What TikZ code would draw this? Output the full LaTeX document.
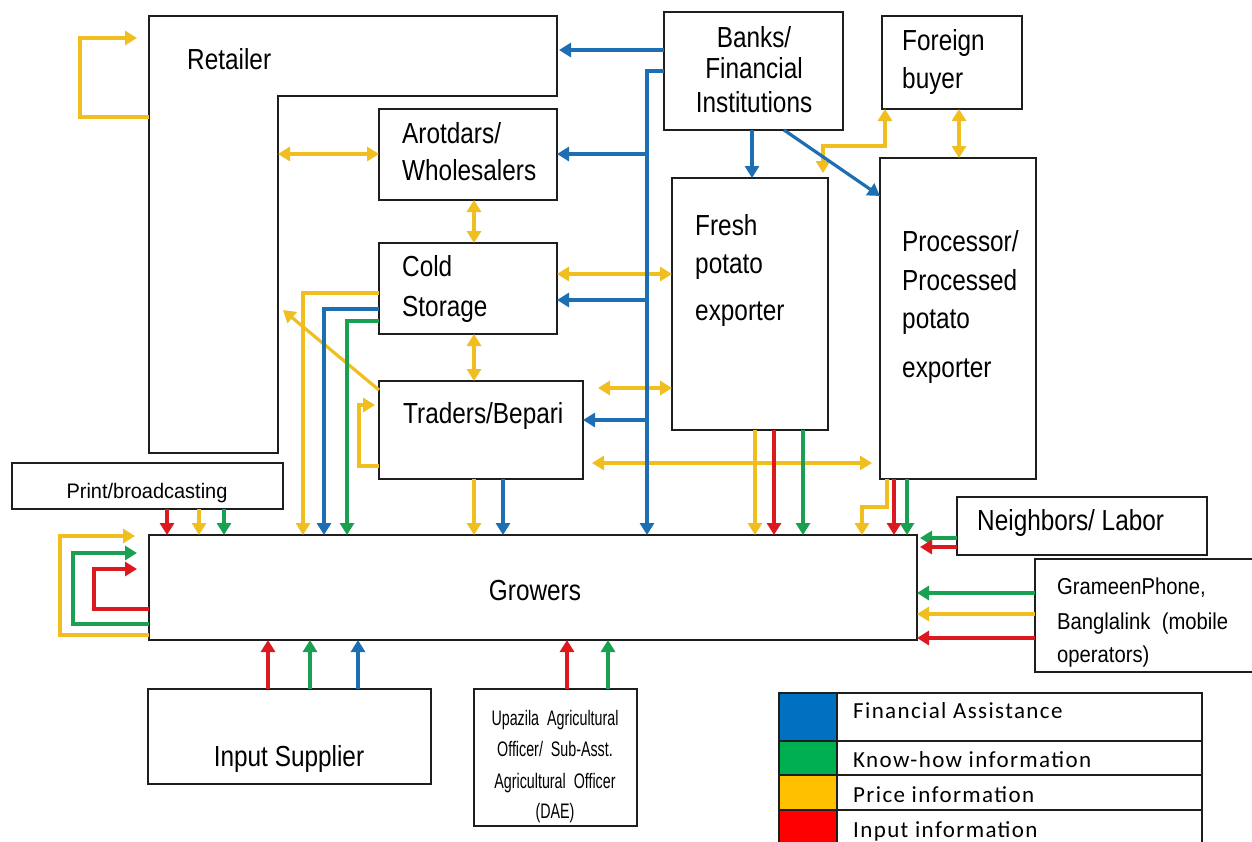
\documentclass[tikz,border=0pt]{standalone}
\usepackage{fontspec}
\setmainfont{Liberation Sans}[FakeStretch=0.84]
\newfontfamily\printfont{Liberation Sans}[FakeStretch=0.95]
\newfontfamily\gpfont{Liberation Sans}[FakeStretch=0.88]
\newfontfamily\upfont{Liberation Sans}[FakeStretch=0.68]
\newfontfamily\legfont{Carlito}[LetterSpace=6]
\usetikzlibrary{arrows.meta,calc}
\newcommand\mysize[1]{\fontsize{#1}{#1}\selectfont}
\definecolor{cblue}{RGB}{30,110,180}
\definecolor{cgreen}{RGB}{25,160,80}
\definecolor{cyel}{RGB}{240,190,30}
\definecolor{cred}{RGB}{220,25,30}
\definecolor{lblue}{RGB}{0,112,192}
\definecolor{lgreen}{RGB}{0,176,80}
\definecolor{lyel}{RGB}{255,192,0}
\definecolor{lred}{RGB}{255,0,0}
\definecolor{bord}{RGB}{30,30,30}
\tikzset{
  boxline/.style={draw=bord,line width=1.6pt},
  box/.style={boxline,fill=white,inner sep=0pt,outer sep=0pt,anchor=north west},
  area/.style={draw=none,inner sep=0pt,outer sep=0pt,anchor=north west},
  txt/.style={inner sep=0pt,font=\mysize{29}},
  ln/.style={line width=3.2pt},
  tip/.style={-{Triangle[width=14pt,length=12pt]}},
  dtip/.style={{Triangle[width=14pt,length=12pt]}-{Triangle[width=14pt,length=12pt]}},
  kfin/.style={ln,draw=cblue},
  kknow/.style={ln,draw=cgreen},
  kprice/.style={ln,draw=cyel},
  kinput/.style={ln,draw=cred}
}
\newcommand\bx[5]{\node[box,minimum width={#4-#2},minimum height={#5-#3}] (#1) at (#2,#3) {};}
\begin{document}
\begin{tikzpicture}[x=1pt,y=-1pt]
\useasboundingbox (0,0) rectangle (1252,841);
\fill[white] (0,0) rectangle (1252,841);

% Retailer (L shape)
\draw[boxline,fill=white] (149,16) -- (557,16) -- (557,96) -- (278,96) -- (278,453) -- (149,453) -- cycle;
\node[area,minimum width=408,minimum height=80] (retTop) at (149,16) {};
\node[area,minimum width=129,minimum height=437] (retLeft) at (149,16) {};

% boxes
\bx{arot}{379}{109}{557}{200}
\bx{cold}{379}{243}{557}{334}
\bx{trad}{379}{381}{583}{479}
\bx{banks}{664}{12}{843}{130}
\bx{fb}{882}{16}{1022}{109}
\bx{fresh}{672}{178}{828}{430}
\bx{proc}{880}{158}{1036}{479}
\bx{grow}{149}{535}{917}{640}
\bx{print}{12}{463}{283}{509}
\bx{nb}{957}{497}{1207}{555}
\bx{gp}{1035}{559}{1262}{672}
\bx{inps}{148}{689}{431}{784}
\bx{upa}{474}{689}{637}{826}

% legend
\node[box,fill=lblue,minimum width=58,minimum height=48] (lc1) at (779,693) {};
\node[box,fill=lgreen,minimum width=58,minimum height=34] (lc2) at (779,741) {};
\node[box,fill=lyel,minimum width=58,minimum height=35] (lc3) at (779,775) {};
\node[box,fill=lred,minimum width=58,minimum height=40] (lc4) at (779,810) {};
\bx{lt1}{837}{693}{1202}{741}
\bx{lt2}{837}{741}{1202}{775}
\bx{lt3}{837}{775}{1202}{810}
\bx{lt4}{837}{810}{1202}{850}

% texts
\node[txt,anchor=base west] (tRet) at (187,69) {Retailer};
\node[txt,anchor=base west] (tArot1) at (402,143) {Arotdars/};
\node[txt,anchor=base west] (tArot2) at (402,180) {Wholesalers};
\node[txt,anchor=base west] (tCold1) at (402,276) {Cold};
\node[txt,anchor=base west] (tCold2) at (402,316) {Storage};
\node[txt,anchor=base west] (tTrad) at (403,423) {Traders/Bepari};
\node[txt,anchor=base] (tBank1) at (754,47) {Banks/};
\node[txt,anchor=base] (tBank2) at (754,78) {Financial};
\node[txt,anchor=base] (tBank3) at (754,112) {Institutions};
\node[txt,anchor=base west] (tFb1) at (902,50) {Foreign};
\node[txt,anchor=base west] (tFb2) at (902,88) {buyer};
\node[txt,anchor=base west] (tFr1) at (695,235) {Fresh};
\node[txt,anchor=base west] (tFr2) at (695,273) {potato};
\node[txt,anchor=base west] (tFr3) at (695,320) {exporter};
\node[txt,anchor=base west] (tPr1) at (902,251) {Processor/};
\node[txt,anchor=base west] (tPr2) at (902,290) {Processed};
\node[txt,anchor=base west] (tPr3) at (902,328) {potato};
\node[txt,anchor=base west] (tPr4) at (902,377) {exporter};
\node[txt,anchor=base] (tGrow) at (535,600) {Growers};
\node[txt,anchor=base,font=\printfont\mysize{21}] (tPrint) at (147,498) {Print/broadcasting};
\node[txt,anchor=base west] (tNb) at (977,530) {Neighbors/ Labor};
\node[txt,anchor=base west,font=\gpfont\mysize{23}] (tGp1) at (1057,594) {GrameenPhone,};
\node[txt,anchor=base west,font=\gpfont\mysize{23}] (tGp2) at (1057,629) {Banglalink\ \ (mobile};
\node[txt,anchor=base west,font=\gpfont\mysize{23}] (tGp3) at (1057,662) {operators)};
\node[txt,anchor=base] (tInp) at (289,766) {Input Supplier};
\node[txt,anchor=base,font=\upfont\mysize{21}] (tUp1) at (555,725) {Upazila\ \ Agricultural};
\node[txt,anchor=base,font=\upfont\mysize{21}] (tUp2) at (555,756) {Officer/\ \ Sub-Asst.};
\node[txt,anchor=base,font=\upfont\mysize{21}] (tUp3) at (555,788) {Agricultural\ \ Officer};
\node[txt,anchor=base,font=\upfont\mysize{21}] (tUp4) at (555,818) {(DAE)};
\node[txt,anchor=base west,font=\legfont\mysize{23}] (tL1) at (853,718) {Financial Assistance};
\node[txt,anchor=base west,font=\legfont\mysize{23}] (tL2) at (853,767) {Know-how information};
\node[txt,anchor=base west,font=\legfont\mysize{23}] (tL3) at (853,802) {Price information};
\node[txt,anchor=base west,font=\legfont\mysize{23}] (tL4) at (853,837) {Input information};

% junction coordinates on the bank trunk
\coordinate (j1) at (647,154);
\coordinate (j2) at (647,300);
\coordinate (j3) at (647,420);

% ---------- price information (yellow)
\draw[kprice,tip] (retLeft.west |- 0,117) -| (80,38) -- ([xshift=-12pt]retLeft.west |- 0,38);
\draw[kprice,dtip] (retLeft.east |- 0,154) -- (arot.west |- 0,154);
\draw[kprice,dtip] (arot.south -| 474,0) -- (cold.north -| 474,0);
\draw[kprice,dtip] (cold.south -| 474,0) -- (trad.north -| 474,0);
\draw[kprice,dtip] (cold.east |- 0,274) -- (fresh.west |- 0,274);
\draw[kprice,tip] (cold.west |- 0,293) -| (grow.north -| 303,0);
\draw[kprice,tip] (trad.west |- 0,390) -- ([xshift=5pt]retLeft.east |- 0,310);
\draw[kprice,tip] (trad.west |- 0,466) -| (359,405) -- ([xshift=-4pt]trad.west |- 0,405);
\draw[kprice,dtip,shorten <=15pt] (trad.east |- 0,388) -- (fresh.west |- 0,388);
\draw[kprice,dtip,shorten <=9pt,shorten >=8pt] (trad.east |- 0,463) -- (proc.west |- 0,463);
\draw[kprice,tip] (trad.south -| 474,0) -- (grow.north -| 474,0);
\draw[kprice,tip] (fresh.south -| 755,0) -- (grow.north -| 755,0);
\draw[kprice,tip] (proc.south -| 887,0) -- ++(0,28) -| (grow.north -| 862,0);
\draw[kprice,dtip] (fb.south -| 959,0) -- (proc.north -| 959,0);
\draw[kprice,dtip,shorten <=5pt] (fresh.north -| 823,0) -- ++(0,-32) -| (fb.south -| 885,0);
\draw[kprice,tip] (print.south -| 199,0) -- (grow.north -| 199,0);
\draw[kprice,tip] (grow.west |- 0,635) -| (60,536) -- ([xshift=-14pt]grow.west |- 0,536);
\draw[kprice,tip] (gp.west |- 0,614) -- (grow.east |- 0,614);

% ---------- know-how (green)
\draw[kknow,tip] (cold.west |- 0,321) -| (grow.north -| 347,0);
\draw[kknow,tip] (fresh.south -| 803,0) -- (grow.north -| 803,0);
\draw[kknow,tip] (proc.south -| 907,0) -- (grow.north -| 907,0);
\draw[kknow,tip] (print.south -| 224,0) -- (grow.north -| 224,0);
\draw[kknow,tip] (grow.west |- 0,624) -| (73,553) -- ([xshift=-12pt]grow.west |- 0,553);
\draw[kknow,tip] (inps.north -| 310,0) -- (grow.south -| 310,0);
\draw[kknow,tip] (upa.north -| 608,0) -- (grow.south -| 608,0);
\draw[kknow,tip] (nb.west |- 0,538) -- ([xshift=3pt]grow.east |- 0,538);
\draw[kknow,tip] (gp.west |- 0,593) -- (grow.east |- 0,593);

% ---------- input information (red)
\draw[kinput,tip] (fresh.south -| 774,0) -- (grow.north -| 774,0);
\draw[kinput,tip] (proc.south -| 894,0) -- (grow.north -| 894,0);
\draw[kinput,tip] (print.south -| 167,0) -- (grow.north -| 167,0);
\draw[kinput,tip] (grow.west |- 0,609) -| (94,569) -- ([xshift=-12pt]grow.west |- 0,569);
\draw[kinput,tip] (inps.north -| 268,0) -- (grow.south -| 268,0);
\draw[kinput,tip] (upa.north -| 567,0) -- (grow.south -| 567,0);
\draw[kinput,tip] (nb.west |- 0,547) -- ([xshift=3pt]grow.east |- 0,547);
\draw[kinput,tip] (gp.west |- 0,638) -- (grow.east |- 0,638);

% ---------- financial assistance (blue)
\draw[kfin,tip] (banks.west |- 0,50) -- ([xshift=2pt]retTop.east |- 0,50);
\draw[kfin,tip] (banks.west |- 0,71) -| (grow.north -| 647,0);
\draw[kfin,tip] (j1) -- (arot.east |- j1);
\draw[kfin,tip] (j2) -- (cold.east |- j2);
\draw[kfin,tip] (j3) -- (trad.east |- j3);
\draw[kfin,tip] (banks.south -| 752,0) -- (fresh.north -| 752,0);
\draw[kfin,tip] (banks.south -| 784,0) -- (proc.west |- 0,196);
\draw[kfin,tip] (cold.west |- 0,309) -| (grow.north -| 324,0);
\draw[kfin,tip] (trad.south -| 503,0) -- (grow.north -| 503,0);
\draw[kfin,tip] (inps.north -| 358,0) -- (grow.south -| 358,0);
\end{tikzpicture}
\end{document}
